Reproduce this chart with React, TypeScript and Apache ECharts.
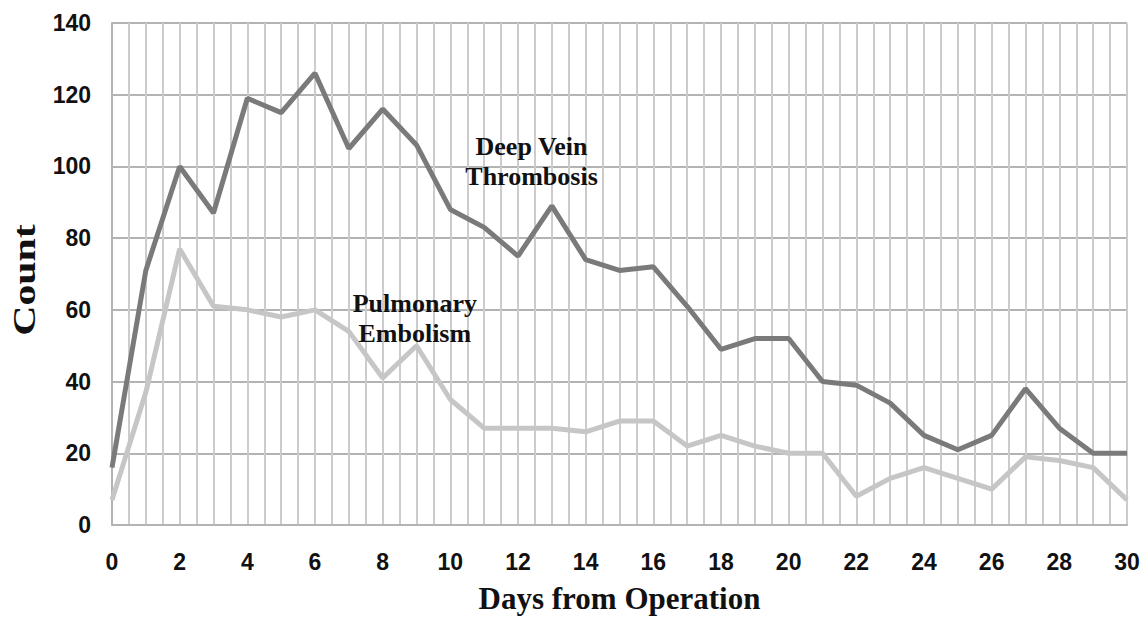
import React, { useEffect, useRef } from "react";
import * as echarts from "echarts";

const days: number[] = Array.from({ length: 31 }, (_, i) => i);
const dvtCounts: number[] = [16, 71, 100, 87, 119, 115, 126, 105, 116, 106, 88, 83, 75, 89, 74, 71, 72, 61, 49, 52, 52, 40, 39, 34, 25, 21, 25, 38, 27, 20, 20];
const peCounts: number[] = [7, 37, 77, 61, 60, 58, 60, 54, 41, 50, 35, 27, 27, 27, 26, 29, 29, 22, 25, 22, 20, 20, 8, 13, 16, 13, 10, 19, 18, 16, 7];
const seriesNames: string[] = ["Deep Vein Thrombosis", "Pulmonary Embolism"];
const annotationLines: string[][] = [["Deep Vein", "Thrombosis"], ["Pulmonary", "Embolism"]];
const annotationAnchors: number[][] = [[12.4, 101.5], [8.95, 57.5]];
const xAxisTitle = "Days from Operation";
const yAxisTitle = "Count";

export default function App() {
  const ref = useRef<HTMLDivElement>(null);
  useEffect(() => {
    if (!ref.current) return;
    const chart = echarts.init(ref.current, undefined, { renderer: "svg" });
    const tickFont = { fontFamily: "Liberation Sans, Arial, sans-serif", fontWeight: "bold" as const, fontSize: 23, color: "#111" };
    const serif = "Liberation Serif, Times New Roman, serif";
    const nameFont = { fontFamily: serif, fontWeight: "bold" as const, fontSize: 31, color: "#111" };
    chart.setOption({
      animation: false,
      grid: { left: 112, right: 19, top: 23, bottom: 92, containLabel: false },
      xAxis: {
        type: "value",
        min: 0,
        max: 30,
        interval: 2,
        name: xAxisTitle,
        nameLocation: "middle",
        nameGap: 58,
        nameTextStyle: nameFont,
        axisLine: { show: true, lineStyle: { color: "#b3b3b3", width: 2 } },
        axisTick: { show: false },
        axisLabel: { ...tickFont, margin: 25 },
        splitLine: { show: true, lineStyle: { color: "#cccccc", width: 2 } },
        minorTick: { show: false, splitNumber: 4 },
        minorSplitLine: { show: true, lineStyle: { color: "#cccccc", width: 2 } },
      },
      yAxis: {
        type: "value",
        min: 0,
        max: 140,
        interval: 20,
        axisLine: { show: true, lineStyle: { color: "#b3b3b3", width: 2 } },
        axisTick: { show: false },
        axisLabel: { ...tickFont, margin: 21 },
        splitLine: { show: true, lineStyle: { color: "#b3b3b3", width: 2 } },
      },
      series: [
        {
          name: seriesNames[1],
          type: "line",
          data: days.map((d, i) => [d, peCounts[i]]),
          symbol: "none",
          lineStyle: { color: "#c6c6c6", width: 5 },
          z: 3,
        },
        {
          name: seriesNames[0],
          type: "line",
          data: days.map((d, i) => [d, dvtCounts[i]]),
          symbol: "none",
          lineStyle: { color: "#7a7a7a", width: 5 },
          z: 4,
        },
      ],
    });
    const graphics: any[] = annotationAnchors.map((a, i) => {
      const p = chart.convertToPixel({ gridIndex: 0 }, a) as number[];
      return {
        type: "text",
        x: p[0],
        y: p[1],
        z: 10,
        style: {
          text: annotationLines[i].join("\n"),
          align: "center",
          verticalAlign: "middle",
          fontFamily: serif,
          fontWeight: "bold",
          fontSize: 26,
          lineHeight: 30,
          fill: "#111",
        },
      };
    });
    graphics.push({
      type: "text",
      x: 24,
      y: 280,
      rotation: Math.PI / 2,
      scaleX: 1.35,
      z: 10,
      style: {
        text: yAxisTitle,
        align: "center",
        verticalAlign: "middle",
        fontFamily: serif,
        fontWeight: "bold",
        fontSize: 31,
        fill: "#111",
      },
    });
    chart.setOption({ graphic: graphics });
    return () => chart.dispose();
  }, []);
  return <div ref={ref} style={{ position: "fixed", left: 0, top: 0, width: 1146, height: 619, background: "#fff" }} />;
}
